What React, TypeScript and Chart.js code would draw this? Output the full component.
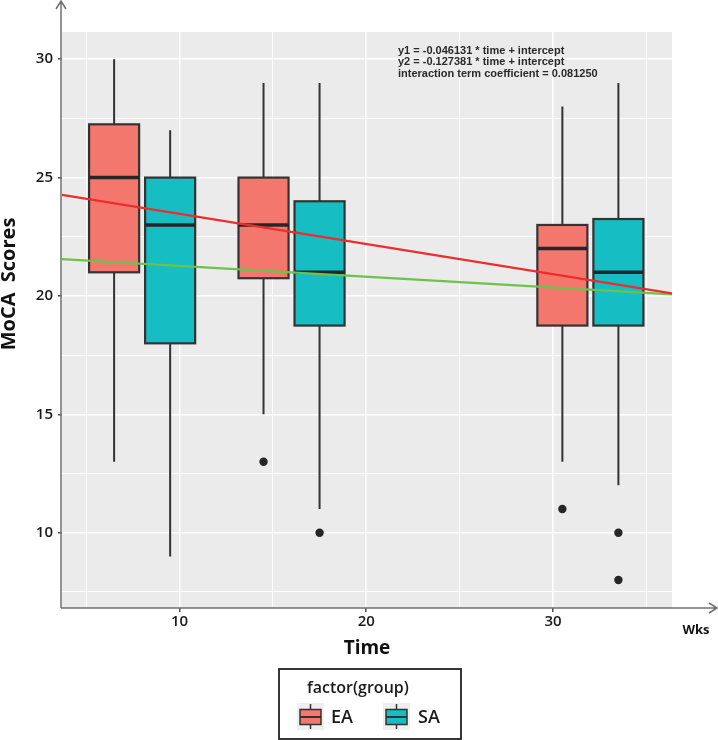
import React, { useEffect, useRef } from "react";
import { Chart, registerables } from "chart.js";

Chart.register(...registerables);

// ---------------- data ----------------
const timePoints = [8, 16, 32]; // weeks
const groupNames = ["EA", "SA"];
const groupOffsets = [-1.5, 1.5]; // dodge (weeks)

const eaMin = [13, 15, 13];
const eaQ1 = [21, 20.75, 18.75];
const eaMedian = [25, 23, 22];
const eaQ3 = [27.25, 25, 23];
const eaMax = [30, 29, 28];
const eaOutliers = [[], [13], [11]];

const saMin = [9, 11, 12];
const saQ1 = [18, 18.75, 18.75];
const saMedian = [23, 21, 21];
const saQ3 = [25, 24, 23.25];
const saMax = [27, 29, 29];
const saOutliers = [[], [10], [10, 8]];

// fitted lines (endpoints read at panel edges)
const fitX = [3.71, 36.37];
const fitY1 = [21.56, 20.07]; // y1 = -0.046131 * time + intercept
const fitY2 = [24.27, 20.11]; // y2 = -0.127381 * time + intercept

const xTickLabels = [10, 20, 30];
const xGridValues = [5, 10, 15, 20, 25, 30, 35];
const yTickLabels = [10, 15, 20, 25, 30];
const yGridValues = [7.5, 10, 12.5, 15, 17.5, 20, 22.5, 25, 27.5, 30];

const annotationLines = [
  "y1 = -0.046131 * time + intercept",
  "y2 = -0.127381 * time + intercept",
  "interaction term coefficient = 0.081250",
];

// ---------------- styles ----------------
const X_MIN = 3.71;
const X_MAX = 36.37;
const Y_MIN = 6.82;
const Y_MAX = 31.15;
const BOX_WIDTH = 2.68; // in weeks
const FILLS = ["#F4776E", "#16BDC3"];
const INK = "#333333";
const PANEL = "#EBEBEB";
const FONT = "'Open Sans', 'DejaVu Sans', sans-serif";

const series = [
  { min: eaMin, q1: eaQ1, med: eaMedian, q3: eaQ3, max: eaMax, out: eaOutliers },
  { min: saMin, q1: saQ1, med: saMedian, q3: saQ3, max: saMax, out: saOutliers },
];

const panelPlugin = {
  id: "panelBg",
  beforeDraw(chart: any) {
    const { ctx, chartArea: a } = chart;
    ctx.save();
    ctx.fillStyle = "#ffffff";
    ctx.fillRect(0, 0, chart.width, chart.height);
    ctx.fillStyle = PANEL;
    ctx.fillRect(a.left, a.top, a.right - a.left, a.bottom - a.top);
    ctx.restore();
  },
};

const boxPlugin = {
  id: "boxes",
  beforeDatasetsDraw(chart: any) {
    const { ctx } = chart;
    const xs = chart.scales.x;
    const ys = chart.scales.y;
    ctx.save();
    series.forEach((s, gi) => {
      timePoints.forEach((t, i) => {
        const c = t + groupOffsets[gi];
        const cx = xs.getPixelForValue(c);
        const l = xs.getPixelForValue(c - BOX_WIDTH / 2);
        const r = xs.getPixelForValue(c + BOX_WIDTH / 2);
        const yMin = ys.getPixelForValue(s.min[i]);
        const yMax = ys.getPixelForValue(s.max[i]);
        const yQ1 = ys.getPixelForValue(s.q1[i]);
        const yQ3 = ys.getPixelForValue(s.q3[i]);
        const yMed = ys.getPixelForValue(s.med[i]);
        // whiskers
        ctx.strokeStyle = INK;
        ctx.lineWidth = 2;
        ctx.beginPath();
        ctx.moveTo(cx, yMax);
        ctx.lineTo(cx, yQ3);
        ctx.moveTo(cx, yQ1);
        ctx.lineTo(cx, yMin);
        ctx.stroke();
        // box
        ctx.fillStyle = FILLS[gi];
        ctx.fillRect(l, yQ3, r - l, yQ1 - yQ3);
        ctx.lineWidth = 2.2;
        ctx.strokeRect(l, yQ3, r - l, yQ1 - yQ3);
        // median
        ctx.lineWidth = 3.5;
        ctx.strokeStyle = "#262626";
        ctx.beginPath();
        ctx.moveTo(l, yMed);
        ctx.lineTo(r, yMed);
        ctx.stroke();
      });
    });
    ctx.restore();
  },
};

const decorPlugin = {
  id: "decor",
  afterDraw(chart: any) {
    const { ctx, chartArea: a } = chart;
    ctx.save();
    // axis lines with arrow heads
    const ax = a.left - 1;
    const ay = a.bottom;
    ctx.strokeStyle = "#707070";
    ctx.lineWidth = 1.5;
    ctx.beginPath();
    ctx.moveTo(ax, ay);
    ctx.lineTo(ax, 1);
    ctx.moveTo(ax - 5, 9);
    ctx.lineTo(ax, 1);
    ctx.lineTo(ax + 5, 9);
    ctx.moveTo(ax, ay);
    ctx.lineTo(717, ay);
    ctx.moveTo(709, ay - 5);
    ctx.lineTo(717, ay);
    ctx.lineTo(709, ay + 5);
    ctx.stroke();

    // axis titles
    ctx.fillStyle = "#111";
    ctx.textAlign = "center";
    ctx.textBaseline = "alphabetic";
    ctx.font = `bold 19px ${FONT}`;
    ctx.fillText("Time", 367, 654);
    ctx.font = `bold 13px ${FONT}`;
    ctx.fillText("Wks", 696, 634);
    ctx.save();
    ctx.translate(15, 284);
    ctx.rotate(-Math.PI / 2);
    ctx.font = `bold 20px ${FONT}`;
    ctx.fillText("MoCA  Scores", 0, 0);
    ctx.restore();

    // annotation
    ctx.textAlign = "left";
    ctx.textBaseline = "middle";
    ctx.fillStyle = "#2a2a2a";
    ctx.font = `bold 11px 'Liberation Sans', Arial, sans-serif`;
    annotationLines.forEach((txt, i) => {
      ctx.fillText(txt, 398, 51 + i * 11.3);
    });

    // legend
    ctx.fillStyle = "#fff";
    ctx.fillRect(279, 669, 182, 70);
    ctx.strokeStyle = "#222";
    ctx.lineWidth = 1.8;
    ctx.strokeRect(279, 669, 182, 70);
    ctx.fillStyle = "#1a1a1a";
    ctx.font = `600 16px ${FONT}`;
    ctx.textAlign = "left";
    ctx.textBaseline = "middle";
    ctx.fillText("factor(group)", 307, 688);
    const keyX = [297, 383];
    const labX = [331, 418];
    groupNames.forEach((name, gi) => {
      const kx = keyX[gi];
      ctx.fillStyle = "#EFEFEF";
      ctx.fillRect(kx, 703, 27, 27);
      const cx = kx + 13.5;
      ctx.strokeStyle = INK;
      ctx.lineWidth = 1.5;
      ctx.beginPath();
      ctx.moveTo(cx, 704);
      ctx.lineTo(cx, 729);
      ctx.stroke();
      ctx.fillStyle = FILLS[gi];
      ctx.fillRect(kx + 3, 709.5, 21, 15);
      ctx.strokeRect(kx + 3, 709.5, 21, 15);
      ctx.lineWidth = 2;
      ctx.beginPath();
      ctx.moveTo(kx + 3, 717);
      ctx.lineTo(kx + 24, 717);
      ctx.stroke();
      ctx.fillStyle = "#1a1a1a";
      ctx.font = `600 18px ${FONT}`;
      ctx.fillText(name, labX[gi], 718);
    });
    ctx.restore();
  },
};

export default function App() {
  const ref = useRef<HTMLCanvasElement>(null);
  useEffect(() => {
    document.body.style.margin = "0";
    const canvas = ref.current!;
    const outlierPoints: { x: number; y: number }[] = [];
    series.forEach((s, gi) => {
      s.out.forEach((vals: number[], i: number) => {
        vals.forEach((v) => outlierPoints.push({ x: timePoints[i] + groupOffsets[gi], y: v }));
      });
    });
    const chart = new Chart(canvas, {
      type: "scatter",
      data: {
        datasets: [
          {
            label: "outliers",
            data: outlierPoints,
            pointRadius: 4.2,
            pointBackgroundColor: "#262626",
            pointBorderWidth: 0,
            showLine: false,
          },
          {
            label: "y2",
            data: fitX.map((x, i) => ({ x, y: fitY2[i] })),
            showLine: true,
            borderColor: "#EE2C2C",
            borderWidth: 2.2,
            pointRadius: 0,
          },
          {
            label: "y1",
            data: fitX.map((x, i) => ({ x, y: fitY1[i] })),
            showLine: true,
            borderColor: "#6CC24A",
            borderWidth: 2.2,
            pointRadius: 0,
          },
        ],
      },
      options: {
        animation: false,
        responsive: false,
        devicePixelRatio: 1,
        layout: { padding: { left: 0, top: 32, right: 46, bottom: 0 } },
        plugins: { legend: { display: false }, tooltip: { enabled: false } },
        scales: {
          x: {
            type: "linear",
            min: X_MIN,
            max: X_MAX,
            afterBuildTicks: (s: any) => {
              s.ticks = xGridValues.map((v) => ({ value: v }));
            },
            afterFit: (s: any) => {
              s.height = 132;
            },
            border: { display: false },
            grid: {
              color: "#ffffff",
              lineWidth: (c: any) => (xTickLabels.includes(c.tick?.value) ? 1.6 : 0.9),
              drawTicks: true,
              tickLength: 4,
              tickWidth: 1.3,
              tickColor: (c: any) => (xTickLabels.includes(c.tick?.value) ? "#333" : "rgba(0,0,0,0)"),
            },
            ticks: {
              autoSkip: false,
              maxRotation: 0,
              padding: 1,
              color: "#1a1a1a",
              font: { family: FONT, size: 15, weight: "600" },
              callback: (v: any) => (xTickLabels.includes(v) ? String(v) : ""),
            },
          },
          y: {
            type: "linear",
            min: Y_MIN,
            max: Y_MAX,
            afterBuildTicks: (s: any) => {
              s.ticks = yGridValues.map((v) => ({ value: v }));
            },
            afterFit: (s: any) => {
              s.width = 62;
            },
            border: { display: false },
            grid: {
              color: "#ffffff",
              lineWidth: (c: any) => (yTickLabels.includes(c.tick?.value) ? 1.6 : 0.9),
              drawTicks: true,
              tickLength: 4,
              tickWidth: 1.3,
              tickColor: (c: any) => (yTickLabels.includes(c.tick?.value) ? "#333" : "rgba(0,0,0,0)"),
            },
            ticks: {
              autoSkip: false,
              padding: 5,
              color: "#1a1a1a",
              font: { family: FONT, size: 15, weight: "600" },
              callback: (v: any) => (yTickLabels.includes(v) ? String(v) : ""),
            },
          },
        },
      },
      plugins: [panelPlugin, boxPlugin, decorPlugin],
    } as any);
    return () => chart.destroy();
  }, []);
  return <canvas ref={ref} width={718} height={740} style={{ display: "block", width: 718, height: 740 }} />;
}
